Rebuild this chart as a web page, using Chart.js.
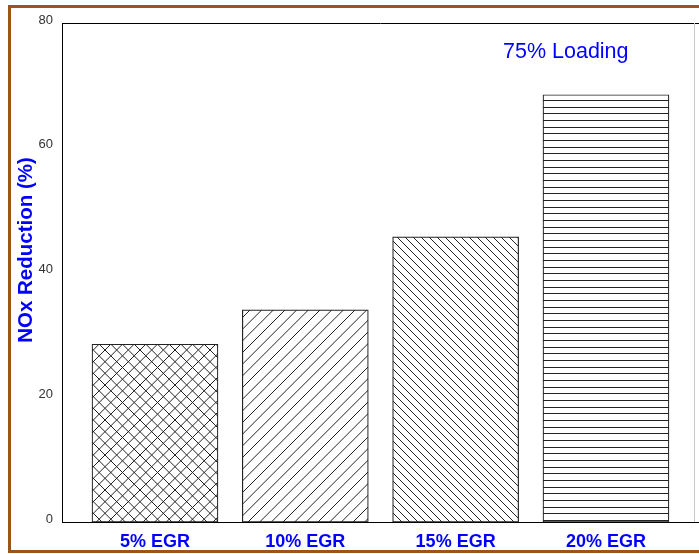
<!DOCTYPE html>
<html>
<head>
<meta charset="utf-8">
<script src="https://cdn.jsdelivr.net/npm/chart.js@4/dist/chart.umd.min.js"></script>
<style>
  body { margin: 0; background: #fff; }
  #wrap { position: relative; width: 699px; height: 554px; overflow: hidden; }
  #chart { position: absolute; left: 0; top: 0; }
  #frame {
    position: absolute; left: 8px; top: 5px; width: 720px; height: 548px;
    box-sizing: border-box; border: 3px solid #9c5519; pointer-events: none;
  }
</style>
</head>
<body>
<div id="wrap">
  <canvas id="chart" width="699" height="554"></canvas>
  <div id="frame"></div>
</div>
<script>
const categories = ["5% EGR", "10% EGR", "15% EGR", "20% EGR"];
const noxReduction = [28.5, 34.0, 45.7, 68.5];
const yTicks = [0, 20, 40, 60, 80];
const hatchKinds = ["cross", "forward", "back", "horizontal"];

const FONT = "'Liberation Sans', Arial, sans-serif";

// hatch fill tiles for the bars
function makePattern(kind) {
    const size = { cross: 35, forward: 35, back: 24, horizontal: 20 }[kind];
    const c = document.createElement("canvas");
    c.width = size;
    c.height = size;
    const g = c.getContext("2d");
    g.fillStyle = "#fff";
    g.fillRect(0, 0, size, size);
    g.strokeStyle = "#222";
    g.lineWidth = 1;
    const step = size / 3;
    g.beginPath();
    if (kind === "forward" || kind === "cross") {
        for (let k = 0; k <= 6; k++) {
            const s = k * step;
            g.moveTo(s, 0);
            g.lineTo(s - size, size);
        }
    }
    if (kind === "back" || kind === "cross") {
        for (let k = -3; k <= 3; k++) {
            const s = k * step;
            g.moveTo(s, 0);
            g.lineTo(s + size, size);
        }
    }
    if (kind === "horizontal") {
        [0.5, 7.5, 13.5].forEach(y => {
            g.moveTo(0, y);
            g.lineTo(size, y);
        });
    }
    g.stroke();
    return g.createPattern(c, "repeat");
}

const framePlugin = {
    id: "frame",
    afterDraw(chart) {
        const { ctx, chartArea } = chart;
        ctx.save();
        // top edge of the plot box
        ctx.strokeStyle = "#000";
        ctx.lineWidth = 1;
        ctx.beginPath();
        ctx.moveTo(chartArea.left, chartArea.top + 0.5);
        ctx.lineTo(chart.width, chartArea.top + 0.5);
        ctx.stroke();
        // faint right edge
        ctx.strokeStyle = "#c8c8c8";
        ctx.beginPath();
        ctx.moveTo(694.5, chartArea.top);
        ctx.lineTo(694.5, chartArea.bottom);
        ctx.stroke();

        // y axis title
        ctx.fillStyle = "#0000ff";
        ctx.font = "bold 20.5px " + FONT;
        ctx.textAlign = "center";
        ctx.textBaseline = "middle";
        ctx.translate(26, 250);
        ctx.rotate(-Math.PI / 2);
        ctx.fillText("NOx Reduction (%)", 0, 0);
        ctx.restore();

        ctx.save();
        ctx.fillStyle = "#0000ff";
        ctx.font = "21.5px " + FONT;
        ctx.textAlign = "left";
        ctx.textBaseline = "alphabetic";
        ctx.fillText("75% Loading", 503, 57.5);
        ctx.restore();
    }
};

const ctx = document.getElementById("chart").getContext("2d");

new Chart(ctx, {
    type: "bar",
    data: {
        datasets: [{
            data: categories.map((c, i) => ({ x: i, y: noxReduction[i] })),
            backgroundColor: hatchKinds.map(makePattern),
            borderColor: "#222",
            borderWidth: 1.2,
            borderSkipped: false,
            barThickness: 126
        }]
    },
    options: {
        responsive: false,
        animation: false,
        layout: { padding: { top: 23, left: 0, right: 0, bottom: 0 } },
        plugins: {
            legend: { display: false },
            tooltip: { enabled: false }
        },
        scales: {
            x: {
                type: "linear",
                offset: false,
                min: -0.6186,
                max: 3.619,
                grid: { display: false, offset: false },
                border: { display: true, color: "#000", width: 1 },
                afterBuildTicks: scale => {
                    scale.ticks = categories.map((c, i) => ({ value: i }));
                },
                afterFit: scale => { scale.height = 32; },
                ticks: {
                    callback: v => categories[v],
                    autoSkip: false,
                    maxRotation: 0,
                    padding: 1,
                    color: "#0000ff",
                    font: { family: FONT, size: 18, weight: "bold" }
                }
            },
            y: {
                min: 0,
                max: 80,
                grid: { display: false },
                border: { display: true, color: "#000", width: 1 },
                afterBuildTicks: scale => {
                    scale.ticks = yTicks.map(v => ({ value: v }));
                },
                afterFit: scale => { scale.width = 62; },
                ticks: {
                    padding: 1,
                    labelOffset: -3,
                    color: "#333",
                    font: { family: FONT, size: 13 }
                }
            }
        }
    },
    plugins: [framePlugin]
});
</script>
</body>
</html>
